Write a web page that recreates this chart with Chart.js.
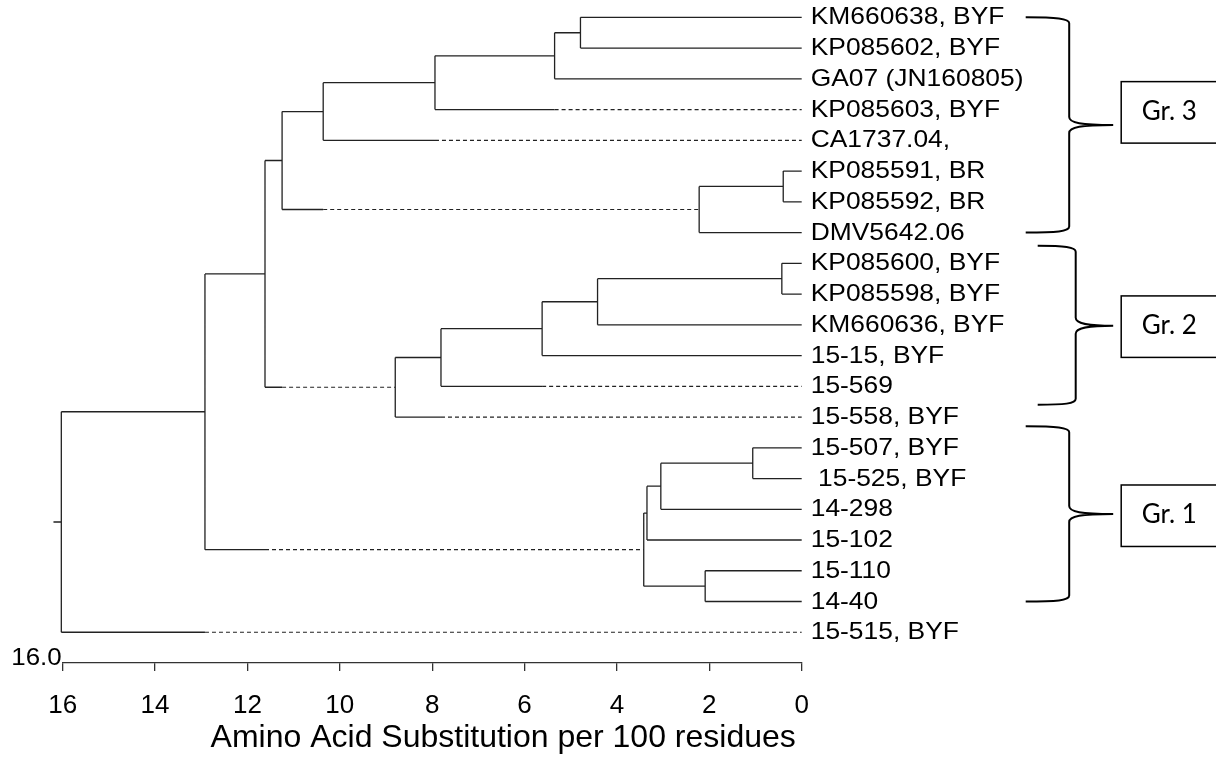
<!DOCTYPE html>
<html>
<head>
<meta charset="utf-8">
<script src="https://cdn.jsdelivr.net/npm/chart.js@4.4.1/dist/chart.umd.min.js"></script>
<style>
  html, body { margin: 0; padding: 0; background: #fff; }
  #wrap { width: 1216px; height: 757px; position: relative; }
</style>
</head>
<body>
<div id="wrap"><canvas id="tree"></canvas></div>
<script>
// leaf names, top to bottom (row = index)
var leaves = [
    'KM660638, BYF', 'KP085602, BYF', 'GA07 (JN160805)', 'KP085603, BYF',
    'CA1737.04,', 'KP085591, BR', 'KP085592, BR', 'DMV5642.06',
    'KP085600, BYF', 'KP085598, BYF', 'KM660636, BYF', '15-15, BYF',
    '15-569', '15-558, BYF', '15-507, BYF', ' 15-525, BYF',
    '14-298', '15-102', '15-110', '14-40', '15-515, BYF'
];

// internal nodes: children (number = leaf row, 'nX' = internal node X)
var nodeKids = [
    [0, 1], ['n0', 2], ['n1', 3], ['n2', 4], [5, 6], ['n4', 7], ['n3', 'n5'],
    [8, 9], ['n7', 10], ['n8', 11], ['n9', 12], ['n10', 13], ['n6', 'n11'],
    [14, 15], ['n13', 16], ['n14', 17], [18, 19], ['n15', 'n16'],
    ['n12', 'n17'], ['n18', 20]
];
// node heights (amino acid substitutions per 100 residues)
var nodeDepth = [
    4.79, 5.35, 7.94, 10.36, 0.40, 2.22, 11.25,
    0.43, 4.42, 5.62, 7.81, 8.80, 11.62,
    1.06, 3.05, 3.35, 2.09, 3.42,
    12.92, 16.03
];
// branches drawn partly dashed: child ref and the depth where the dash starts
var dashedKids = [3, 4, 'n5', 'n11', 12, 13, 'n17', 20];
var dashFrom   = [5.35, 7.94, 10.36, 11.25, 5.62, 7.81, 11.62, 12.92];

var xTicks = [16, 14, 12, 10, 8, 6, 4, 2, 0];
var xTitle = 'Amino Acid Substitution per 100 residues';

// group brackets (rows)
var groupNames = ['Gr. 3', 'Gr. 2', 'Gr. 1'];
var groupFrom  = [0, 7.43, 13.3];
var groupTo    = [7, 12.6, 19];
var groupTip   = [3.5, 10.03, 16.15];
var groupBox   = [3.09, 10.06, 16.21];

/* ---------- build segments ---------- */
function rowOf(ref) {
    if (typeof ref === 'number') return ref;
    var k = nodeKids[+ref.slice(1)];
    return (rowOf(k[0]) + rowOf(k[1])) / 2;
}
function depthOf(ref) {
    return typeof ref === 'number' ? 0 : nodeDepth[+ref.slice(1)];
}

var solidPts = [], dashPts = [];
function seg(arr, x1, y1, x2, y2) {
    arr.push({ x: x1, y: y1 }, { x: x2, y: y2 }, { x: null, y: null });
}

nodeKids.forEach(function (kids, i) {
    var d = nodeDepth[i];
    var ya = rowOf(kids[0]), yb = rowOf(kids[1]);
    seg(solidPts, d, ya, d, yb);
    kids.forEach(function (k) {
        var y = rowOf(k), cd = depthOf(k);
        var j = dashedKids.indexOf(k);
        if (j >= 0) {
            seg(solidPts, d, y, dashFrom[j], y);
            seg(dashPts, dashFrom[j], y, cd, y);
        } else {
            seg(solidPts, d, y, cd, y);
        }
    });
});
// root stub
var rootRow = rowOf('n' + (nodeKids.length - 1));
seg(solidPts, nodeDepth[nodeDepth.length - 1], rootRow, 16.2, rootRow);

/* ---------- labels, brackets ---------- */
function wideText(ctx, txt, x, y, sx) {
    ctx.save();
    ctx.translate(x, y);
    ctx.scale(sx, 1);
    ctx.fillText(txt, 0, 0);
    ctx.restore();
}

var annotations = {
    id: 'annotations',
    afterDraw: function (chart) {
        var ctx = chart.ctx;
        var xs = chart.scales.x, ys = chart.scales.y;
        var x0 = xs.getPixelForValue(0);
        ctx.save();
        ctx.fillStyle = '#000';
        ctx.font = '24px "Liberation Sans", Arial, sans-serif';
        ctx.textBaseline = 'middle';
        ctx.textAlign = 'left';
        leaves.forEach(function (name, i) {
            wideText(ctx, name, x0 + 9, ys.getPixelForValue(i) + 0.5, 1.1);
        });

        // "16.0" at lower left
        ctx.textAlign = 'right';
        ctx.textBaseline = 'alphabetic';
        wideText(ctx, '16.0', xs.getPixelForValue(16) - 1, chart.chartArea.bottom + 1.5, 1.08);

        // axis title
        ctx.font = '32px "Liberation Sans", Arial, sans-serif';
        ctx.textAlign = 'center';
        ctx.textBaseline = 'middle';
        ctx.fillText(xTitle, (xs.left + xs.right) / 2 + 71, 738.5);

        // brackets
        ctx.strokeStyle = '#000';
        ctx.lineWidth = 2;
        groupNames.forEach(function (g, i) {
            var yt = ys.getPixelForValue(groupFrom[i]);
            var yb = ys.getPixelForValue(groupTo[i]);
            var ym = ys.getPixelForValue(groupTip[i]);
            var left = x0 + (i === 1 ? 236 : 224);
            var vx = x0 + (i === 1 ? 274 : 267.5);
            var tip = x0 + 311.5;
            ctx.beginPath();
            ctx.moveTo(left, yt);
            ctx.bezierCurveTo(left + (vx - left) * 0.7, yt, vx, yt + 1, vx, yt + 6);
            ctx.lineTo(vx, ym - 8);
            ctx.bezierCurveTo(vx, ym - 2, vx + 12, ym, tip, ym);
            ctx.moveTo(tip, ym);
            ctx.bezierCurveTo(vx + 12, ym, vx, ym + 2, vx, ym + 8);
            ctx.lineTo(vx, yb - 6);
            ctx.bezierCurveTo(vx, yb - 1, left + (vx - left) * 0.7, yb, left, yb);
            ctx.stroke();

            // box
            var yc = ys.getPixelForValue(groupBox[i]);
            var h = ys.getPixelForValue(1) - ys.getPixelForValue(0);
            ctx.lineWidth = 1.5;
            ctx.strokeRect(x0 + 319.5, yc - h, 120, 2 * h);
            ctx.lineWidth = 2;
            ctx.font = '26px Lato, "Open Sans", sans-serif';
            ctx.textAlign = 'left';
            ctx.textBaseline = 'middle';
            ctx.fillText(g, x0 + 340, yc - 1);
        });
        ctx.restore();
    }
};

Chart.defaults.font.family = '"Liberation Sans", Arial, sans-serif';
Chart.defaults.color = '#000';

new Chart(document.getElementById('tree'), {
    type: 'scatter',
    data: {
        datasets: [
            {
                data: solidPts,
                showLine: true,
                spanGaps: false,
                borderColor: '#222',
                borderWidth: 1.3,
                pointRadius: 0,
                tension: 0,
                clip: false
            },
            {
                data: dashPts,
                showLine: true,
                spanGaps: false,
                borderColor: '#222',
                borderWidth: 1.2,
                borderDash: [4, 3],
                pointRadius: 0,
                tension: 0,
                clip: false
            }
        ]
    },
    options: {
        responsive: true,
        maintainAspectRatio: false,
        animation: false,
        layout: { padding: { top: 2, left: 62.7, right: 414.3, bottom: 0 } },
        plugins: {
            legend: { display: false },
            tooltip: { enabled: false }
        },
        scales: {
            x: {
                type: 'linear',
                reverse: true,
                min: 0,
                max: 16,
                afterBuildTicks: function (scale) {
                    scale.ticks = xTicks.map(function (v) { return { value: v }; });
                },
                ticks: { color: '#000', font: { size: 26 }, padding: 19, maxRotation: 0 },
                grid: { drawOnChartArea: false, drawTicks: true, tickLength: 8, color: '#333', lineWidth: 1.3 },
                border: { display: true, color: '#333', width: 1.3 },
                title: { display: false },
                afterFit: function (scale) { scale.height = 94; }
            },
            y: {
                type: 'linear',
                display: false,
                reverse: true,
                min: -0.5,
                max: 21
            }
        }
    },
    plugins: [annotations]
});
</script>
</body>
</html>
